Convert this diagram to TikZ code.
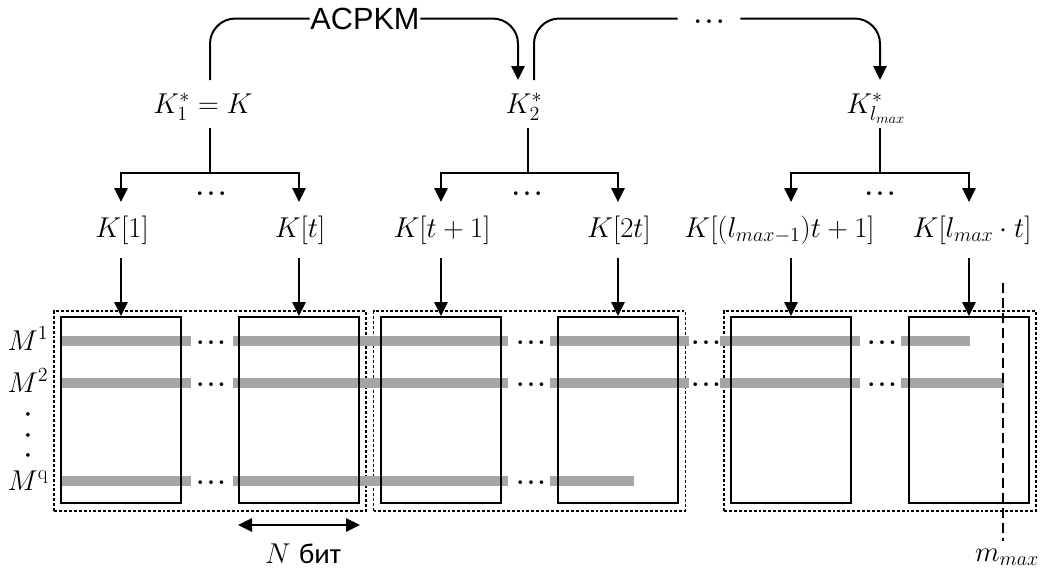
\RequirePackage{fix-cm}
\documentclass[tikz,border=0pt]{standalone}
\usepackage{fontspec}
\newfontfamily\arialf{Liberation Sans}
\newfontfamily\calf{Carlito}
\usetikzlibrary{arrows.meta}
\definecolor{barg}{RGB}{165,165,165}
\begin{document}
\begin{tikzpicture}[x=0.75pt,y=-0.75pt,
  lbl/.style={font=\fontsize{21.5}{25}\selectfont, inner sep=0pt, text height=15pt, text depth=5pt, anchor=base},
  ln/.style={line width=1.5pt},
  arr/.style={line width=1.5pt, -{Triangle[length=10.5pt,width=10pt]}},
  dbl/.style={line width=1.5pt, {Triangle[length=10.5pt,width=10pt]}-{Triangle[length=10.5pt,width=10pt]}},
  blk/.style={draw, line width=1.5pt, minimum width=90pt, minimum height=139.5pt, inner sep=0pt},
  grp/.style={draw, line width=1.1pt, dash pattern=on 2.2pt off 1.5pt, minimum width=234pt, minimum height=150pt, inner sep=0pt},
  bar/.style={line width=7.5pt, draw=barg},
  tdot/.style={font=\bfseries\fontsize{19}{22}\selectfont, inner sep=0pt, anchor=base},
  bdot/.style={font=\bfseries\fontsize{19}{22}\selectfont, inner sep=0pt, anchor=base},
  mdash/.style={line width=1.2pt, dash pattern=on 7.5pt off 3.75pt},
  sanslbl/.style={font=\arialf\fontsize{23}{26}\selectfont, inner xsep=0.5pt, inner ysep=0pt}
]
\useasboundingbox (0,0) rectangle (1045,571);

% group frames
\node[grp] (g1) at (210,411) {};
\node[grp] (g2) at (529.5,411) {};
\node[grp] (g3) at (880,411) {};

% grey message bars
\draw[bar] (61,341) -- (191,341);
\draw[bar] (233,341) -- (508,341);
\draw[bar] (550,341) -- (689,341);
\draw[bar] (720,341) -- (860,341);
\draw[bar] (901,341) -- (970,341);
\draw[bar] (61,383) -- (191,383);
\draw[bar] (233,383) -- (508,383);
\draw[bar] (550,383) -- (689,383);
\draw[bar] (720,383) -- (860,383);
\draw[bar] (901,383) -- (1004,383);
\draw[bar] (61,481) -- (191,481);
\draw[bar] (233,481) -- (508,481);
\draw[bar] (550,481) -- (634,481);

% blocks
\node[blk] (b1) at (121,410) {};
\node[blk] (b2) at (299,410) {};
\node[blk] (b3) at (441,410) {};
\node[blk] (b4) at (618,410) {};
\node[blk] (b5) at (791,410) {};
\node[blk] (b6) at (969,410) {};

% dots between bars
\node[bdot] (e11) at (211,344) {.\kern2pt.\kern2pt.};
\node[bdot] (e12) at (531,344) {.\kern2pt.\kern2pt.};
\node[bdot] (e13) at (706,344) {.\kern2pt.\kern2pt.};
\node[bdot] (e14) at (882,344) {.\kern2pt.\kern2pt.};
\node[bdot] (e21) at (211,386) {.\kern2pt.\kern2pt.};
\node[bdot] (e22) at (531,386) {.\kern2pt.\kern2pt.};
\node[bdot] (e23) at (706,386) {.\kern2pt.\kern2pt.};
\node[bdot] (e24) at (882,386) {.\kern2pt.\kern2pt.};
\node[bdot] (e31) at (211,484) {.\kern2pt.\kern2pt.};
\node[bdot] (e32) at (531,484) {.\kern2pt.\kern2pt.};

% row labels
\node[lbl] (m1) at (28,350) {$M^{1}$};
\node[lbl] (m2) at (28,392) {$M^{2}$};
\node[lbl] (mq) at (28,490) {$M^{\mathrm{q}}$};
\node[rotate=-90, font=\bfseries\fontsize{19}{22}\selectfont, inner sep=0pt] (vd) at (28,435) {.\kern9.5pt.\kern9.5pt.};

% key labels
\node[lbl] (k1s) at (203,113) {$K_1^*=K$};
\node[lbl] (k2s) at (524,113) {$K_2^*$};
\node[lbl] (k3s) at (876,113) {$K_{l_{max}}^*$};
\node[lbl] (ka) at (122,237) {$K[1]$};
\node[lbl] (kb) at (300,237) {$K[t]$};
\node[lbl] (kc) at (442,237) {$K[t+1]$};
\node[lbl] (kd) at (619,237) {$K[2t]$};
\node[lbl] (ke) at (779.5,237) {$K[(l_{max-1})t+1]$};
\node[lbl] (kf) at (972,237) {$K[l_{max}\cdot t]$};

% top chain
\node[sanslbl] (acp) at (365,18.5) {ACPKM};
\node[inner sep=0pt, minimum width=46.5pt, font=\bfseries\fontsize{19}{22}\selectfont] (tdots) at (709,18.5) {\raisebox{-4pt}[0pt][0pt]{.\kern2.5pt.\kern2.5pt.}};
\coordinate (o1) at (210,80);
\coordinate (i2) at (518,80);
\coordinate (o2) at (534,80);
\coordinate (i3) at (880,80);
\draw[ln, rounded corners=19pt] (o1) |- (acp.west);
\draw[arr, rounded corners=19pt] (acp.east) -| (i2);
\draw[ln, rounded corners=19pt] (o2) |- (tdots.west);
\draw[arr, rounded corners=19pt] (tdots.east) -| (i3);

% trees
\coordinate (j1) at (210,173);
\coordinate (j2) at (528,173);
\coordinate (j3) at (880,173);
\draw[ln] ([yshift=-6pt]k1s.south -| j1) -- (j1);
\draw[ln] ([yshift=-6pt]k2s.south -| j2) -- (j2);
\draw[ln] ([yshift=-6pt]k3s.south -| j3) -- (j3);
\draw[arr] (j1) -| ([yshift=11pt]ka.north -| b1.north);
\draw[arr] (j1) -| ([yshift=11pt]kb.north -| b2.north);
\draw[arr] (j2) -| ([yshift=11pt]kc.north -| b3.north);
\draw[arr] (j2) -| ([yshift=11pt]kd.north -| b4.north);
\draw[arr] (j3) -| ([yshift=11pt]ke.north -| b5.north);
\draw[arr] (j3) -| ([yshift=11pt]kf.north -| b6.north);
\node[tdot] (t1) at (211,195) {.\kern2.5pt.\kern2.5pt.};
\node[tdot] (t2) at (527,195) {.\kern2.5pt.\kern2.5pt.};
\node[tdot] (t3) at (880,195) {.\kern2.5pt.\kern2.5pt.};

% key to block arrows
\draw[arr] ([yshift=-10.5pt]ka.south -| b1.north) -- (b1.north);
\draw[arr] ([yshift=-10.5pt]kb.south -| b2.north) -- (b2.north);
\draw[arr] ([yshift=-10.5pt]kc.south -| b3.north) -- (b3.north);
\draw[arr] ([yshift=-10.5pt]kd.south -| b4.north) -- (b4.north);
\draw[arr] ([yshift=-10.5pt]ke.south -| b5.north) -- (b5.north);
\draw[arr] ([yshift=-10.5pt]kf.south -| b6.north) -- (b6.north);

% N bit
\draw[dbl] ([yshift=-15.75pt]b2.south west) -- ([yshift=-15.75pt]b2.south east);
\node[lbl, text depth=0pt] (nb) at (303,563) {$N$ {\calf бит}};

% m_max
\coordinate (mt) at (1003,283);
\node[lbl, text depth=3pt] (mm) at (1007,561) {$m_{max}$};
\draw[mdash] (mt) -- (mt |- mm.north);
\end{tikzpicture}
\end{document}
